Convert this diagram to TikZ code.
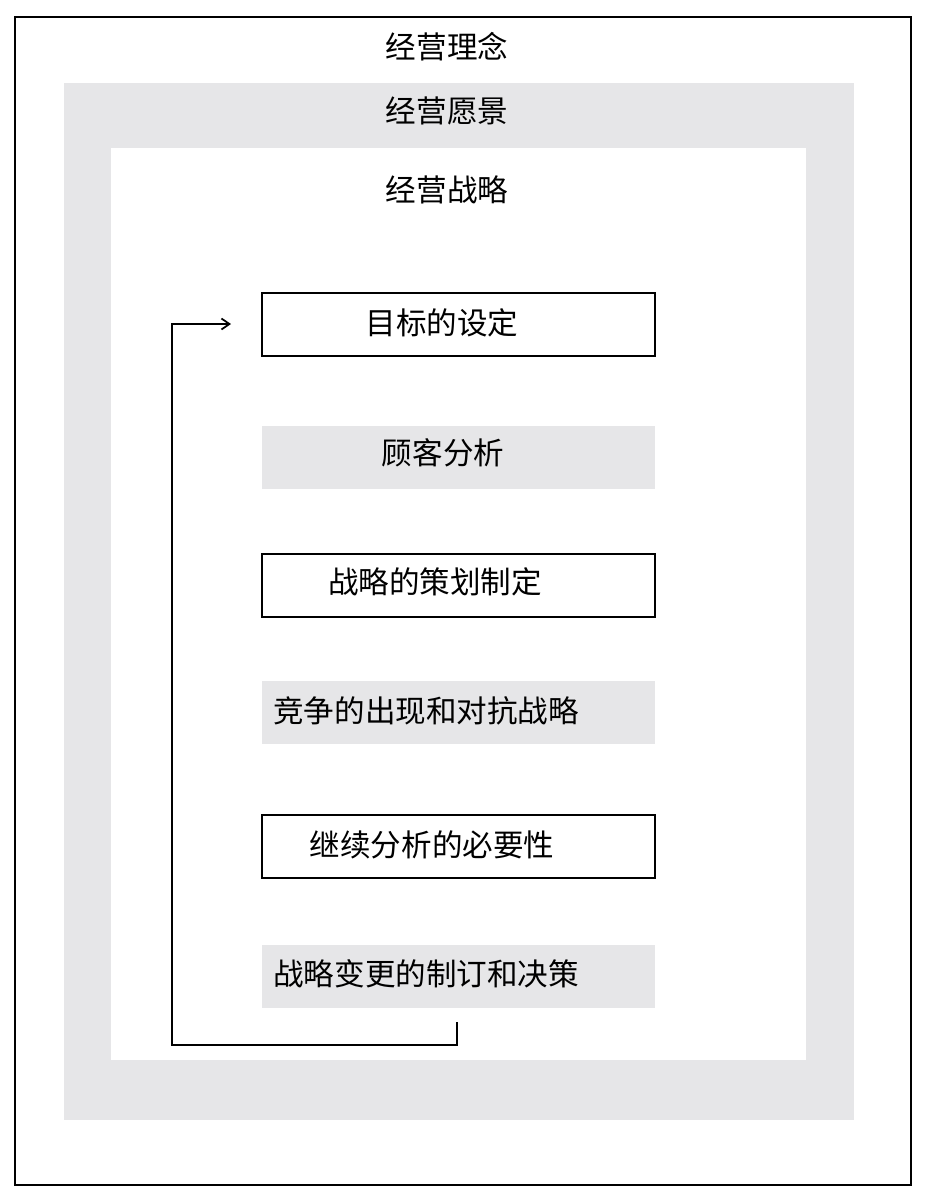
\documentclass[tikz,border=0pt]{standalone}
\usepackage{fontspec}
\setmainfont{Noto Sans CJK SC}
\usetikzlibrary{arrows.meta}
\definecolor{bandgray}{RGB}{230,230,232}
\begin{document}
\begin{tikzpicture}[
    x=0.02cm, y=-0.02cm,
    txt/.style={inner sep=0pt, font=\fontsize{17.4}{20}\selectfont},
    whitebox/.style={rectangle, draw, line width=0.8pt, minimum width=7.86cm, minimum height=1.26cm},
    graybox/.style={rectangle, fill=bandgray, minimum width=7.86cm, minimum height=1.26cm},
    arrow/.style={-{Straight Barb[length=1.6mm, width=2.2mm]}, line width=1pt}
]
\useasboundingbox (0,0) rectangle (924,1200);
% Frames
\draw[line width=0.8pt, fill=white] (15,17) rectangle (911,1185);
\fill[bandgray] (64,83) rectangle (854,1120);
\fill[white] (111,148) rectangle (806,1060);

% Frame titles
\node[txt] (idea) at (447,47) {经营理念};
\node[txt] (vision) at (447,111) {经营愿景};
\node[txt] (strategy) at (447,190) {经营战略};

% Steps
\node[whitebox] (goal) at (458.5,324.5) {};
\node[graybox] (customer) at (458.5,457.5) {};
\node[whitebox] (plan) at (458.5,585.5) {};
\node[graybox] (compete) at (458.5,712.5) {};
\node[whitebox] (continue) at (458.5,846.5) {};
\node[graybox] (decision) at (458.5,976.5) {};

\node[txt] (goaltxt) at (442,323) {目标的设定};
\node[txt] (customertxt) at (443,453) {顾客分析};
\node[txt] (plantxt) at (435,582) {战略的策划制定};
\node[txt, anchor=west] (competetxt) at (273,711) {竞争的出现和对抗战略};
\node[txt] (continuetxt) at (432,845) {继续分析的必要性};
\node[txt, anchor=west] (decisiontxt) at (273,974) {战略变更的制订和决策};

% Feedback loop
\coordinate (loopout) at (457,1022);
\coordinate (loopin) at (231,324);
\draw[arrow] (loopout) |- (172,1045) |- (loopin);
\end{tikzpicture}
\end{document}
